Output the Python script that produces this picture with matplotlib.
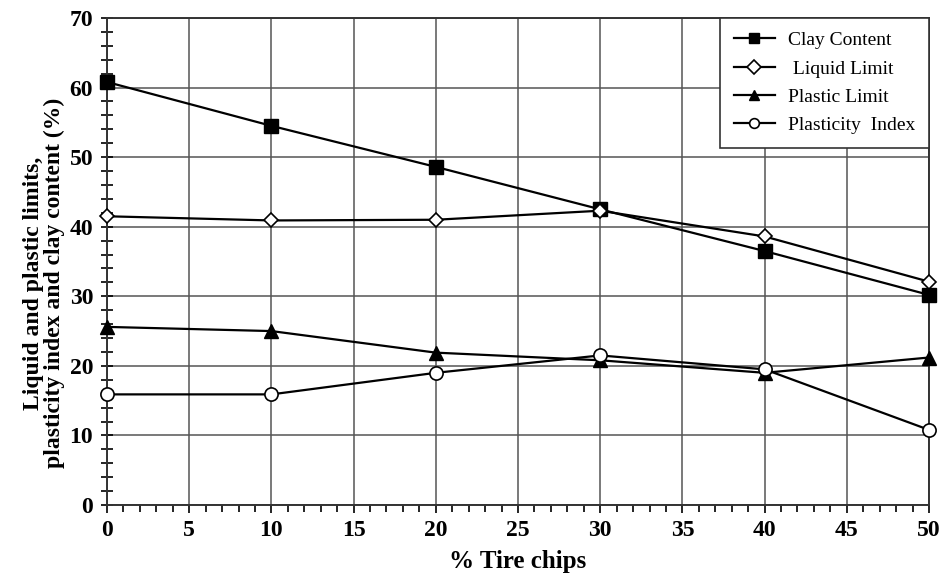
import matplotlib
matplotlib.use("Agg")
import matplotlib.pyplot as plt
from matplotlib.ticker import MultipleLocator

tire_chips = [0, 10, 20, 30, 40, 50]
clay_content = [60.8, 54.5, 48.6, 42.5, 36.5, 30.2]
liquid_limit = [41.5, 40.9, 41.0, 42.3, 38.6, 32.1]
plastic_limit = [25.6, 25.0, 21.9, 20.8, 19.0, 21.2]
plasticity_index = [15.9, 15.9, 19.0, 21.5, 19.5, 10.8]

plt.rcParams['font.family'] = ['Liberation Serif', 'DejaVu Serif']

fig = plt.figure(figsize=(9.43, 5.76), dpi=100)
ax = fig.add_axes([107/943, 1 - 505/576, (929-107)/943, (505-18)/576])

lw = 1.6
ax.plot(tire_chips, clay_content, color='black', lw=lw, marker='s', ms=9.5,
        mfc='black', mec='black', label='Clay Content', zorder=3, clip_on=False)
ax.plot(tire_chips, liquid_limit, color='black', lw=lw, marker='D', ms=7.5,
        mfc='white', mec='black', mew=1.2, label=' Liquid Limit', zorder=4, clip_on=False)
ax.plot(tire_chips, plastic_limit, color='black', lw=lw, marker='^', ms=10,
        mfc='black', mec='black', label='Plastic Limit', zorder=3, clip_on=False)
ax.plot(tire_chips, plasticity_index, color='black', lw=lw, marker='o', ms=9.5,
        mfc='white', mec='black', mew=1.2, label='Plasticity  Index', zorder=4, clip_on=False)

ax.set_xlim(0, 50)
ax.set_ylim(0, 70)
ax.xaxis.set_major_locator(MultipleLocator(5))
ax.xaxis.set_minor_locator(MultipleLocator(1))
ax.yaxis.set_major_locator(MultipleLocator(10))
ax.yaxis.set_minor_locator(MultipleLocator(2))
ax.grid(True, which='major', color='#555555', lw=1.1)
ax.set_axisbelow(True)

ax.tick_params(axis='x', which='both', direction='out', length=6, width=1.2, pad=5)
ax.tick_params(axis='x', which='minor', length=5)
ax.tick_params(axis='y', which='both', direction='inout', length=8, width=1.2, pad=6)
for lab in ax.get_xticklabels() + ax.get_yticklabels():
    lab.set_fontweight('bold')
    lab.set_fontsize(17)

for s in ax.spines.values():
    s.set_linewidth(1.4)
    s.set_color('#333333')

ax.set_xlabel('% Tire chips', fontsize=18, fontweight='bold', labelpad=6)
ax.set_ylabel('Liquid and plastic limits,\nplasticity index and clay content (%)',
              fontsize=17, fontweight='bold', linespacing=1.0)
ax.yaxis.set_label_coords(-0.051, 0.456)

leg = ax.legend(loc='upper right', fontsize=14, frameon=True, fancybox=False,
                edgecolor='#333333', framealpha=1, borderaxespad=0,
                handlelength=2.1, labelspacing=0.55, borderpad=0.7,
                handletextpad=0.7)
leg.get_frame().set_linewidth(1.2)
for h in leg.legend_handles:
    h.set_markersize(7)

fig.savefig('out.png', dpi=100)
